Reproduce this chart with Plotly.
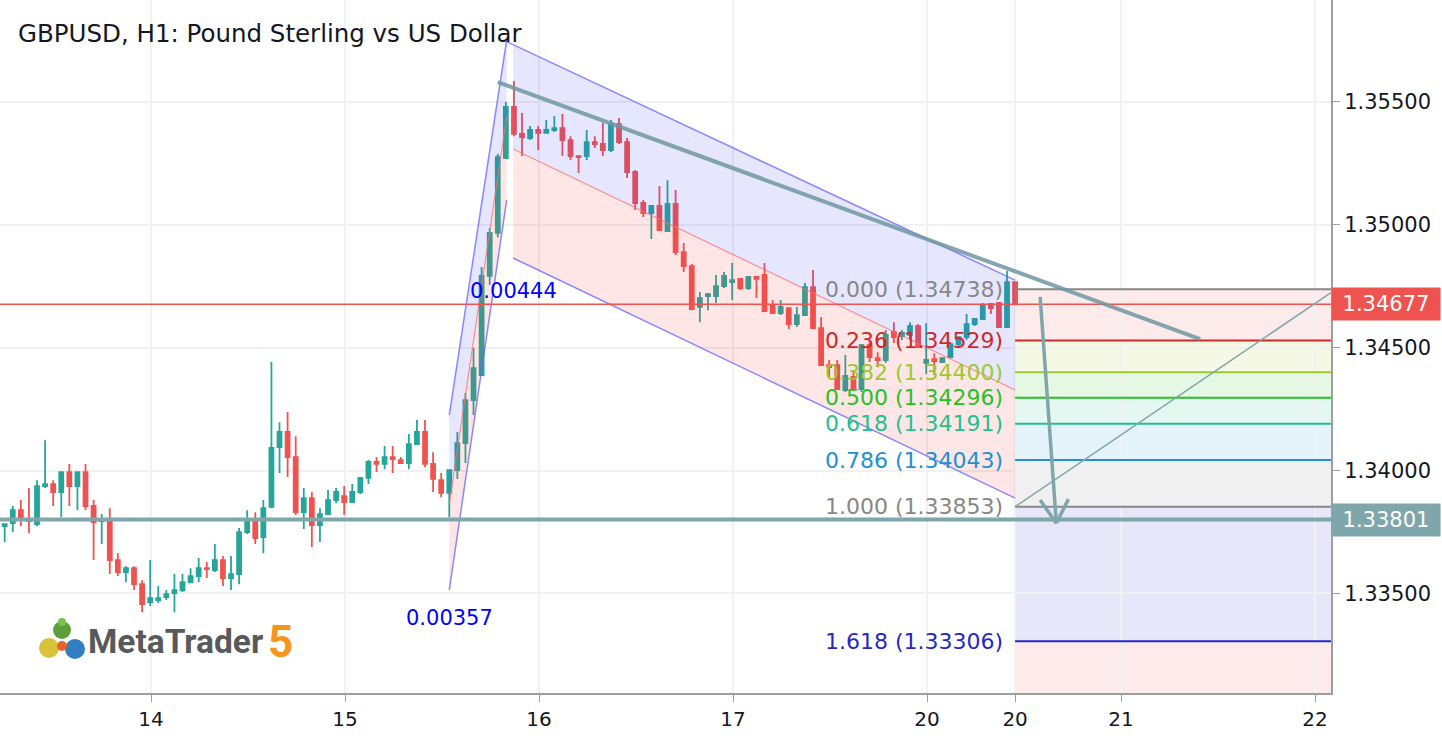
import plotly.graph_objects as go

# ---------------- data ----------------
title_text = "GBPUSD, H1: Pound Sterling vs US Dollar"

opens = [1.33774, 1.33786, 1.33839, 1.33803, 1.33782, 1.33937, 1.33945, 1.33913, 1.33994, 1.33937,
         1.33994, 1.33856, 1.33795, 1.33799, 1.33636, 1.33587, 1.33603, 1.33538, 1.33465, 1.33473,
         1.33485, 1.33502, 1.33514, 1.33546, 1.33571, 1.33603, 1.33595, 1.33636, 1.33563, 1.33579,
         1.33750, 1.33799, 1.33729, 1.33852, 1.34096, 1.34157, 1.34055, 1.33831, 1.33888, 1.33778,
         1.33823, 1.33880, 1.33896, 1.33872, 1.33913, 1.33970, 1.34035, 1.34027, 1.34055, 1.34043,
         1.34031, 1.34108, 1.34157, 1.34027, 1.33961, 1.33909, 1.34002, 1.34112, 1.34287, 1.34389,
         1.34792, 1.34967, 1.35272, 1.35480, 1.35370, 1.35353, 1.35386, 1.35374, 1.35386, 1.35394,
         1.35345, 1.35280, 1.35280, 1.35337, 1.35329, 1.35304, 1.35410, 1.35337, 1.35215, 1.35089,
         1.35048, 1.35077, 1.34975, 1.35085, 1.34889, 1.34832, 1.34666, 1.34710, 1.34710, 1.34751,
         1.34767, 1.34780, 1.34743, 1.34788, 1.34796, 1.34670, 1.34641, 1.34661, 1.34596, 1.34633,
         1.34747, 1.34580, 1.34429, 1.34429, 1.34328, 1.34381, 1.34332, 1.34511, 1.34458, 1.34450,
         1.34564, 1.34547, 1.34552, 1.34588, 1.34438, 1.34454, 1.34442, 1.34462, 1.34515, 1.34543,
         1.34596, 1.34617, 1.34678, 1.34682, 1.34584, 1.34767]
highs = [1.33786, 1.33856, 1.33880, 1.33929, 1.33961, 1.34124, 1.33961, 1.33994, 1.34027, 1.33994,
         1.34027, 1.33880, 1.33823, 1.33847, 1.33664, 1.33611, 1.33611, 1.33554, 1.33636, 1.33530,
         1.33514, 1.33579, 1.33579, 1.33603, 1.33644, 1.33628, 1.33701, 1.33652, 1.33652, 1.33766,
         1.33839, 1.33831, 1.33880, 1.34442, 1.34197, 1.34238, 1.34140, 1.33929, 1.33913, 1.33847,
         1.33921, 1.33929, 1.33937, 1.33945, 1.33970, 1.34043, 1.34055, 1.34100, 1.34100, 1.34055,
         1.34149, 1.34206, 1.34206, 1.34075, 1.33990, 1.34002, 1.34157, 1.34316, 1.34499, 1.34828,
         1.34987, 1.35288, 1.35500, 1.35585, 1.35455, 1.35402, 1.35402, 1.35427, 1.35443, 1.35451,
         1.35361, 1.35280, 1.35386, 1.35361, 1.35414, 1.35427, 1.35435, 1.35353, 1.35223, 1.35101,
         1.35077, 1.35158, 1.35182, 1.35142, 1.34926, 1.34841, 1.34727, 1.34723, 1.34796, 1.34808,
         1.34845, 1.34784, 1.34792, 1.34792, 1.34845, 1.34694, 1.34694, 1.34661, 1.34666, 1.34763,
         1.34816, 1.34625, 1.34450, 1.34450, 1.34470, 1.34401, 1.34515, 1.34531, 1.34482, 1.34572,
         1.34604, 1.34572, 1.34604, 1.34596, 1.34600, 1.34478, 1.34462, 1.34515, 1.34547, 1.34637,
         1.34621, 1.34682, 1.34682, 1.34686, 1.34812, 1.34771]
lows = [1.33709, 1.33750, 1.33774, 1.33746, 1.33774, 1.33929, 1.33856, 1.33811, 1.33856, 1.33839,
        1.33839, 1.33636, 1.33701, 1.33579, 1.33571, 1.33546, 1.33514, 1.33424, 1.33449, 1.33461,
        1.33473, 1.33424, 1.33506, 1.33546, 1.33546, 1.33563, 1.33587, 1.33530, 1.33514, 1.33538,
        1.33742, 1.33701, 1.33664, 1.33847, 1.33990, 1.33974, 1.33819, 1.33762, 1.33689, 1.33709,
        1.33819, 1.33868, 1.33819, 1.33868, 1.33904, 1.33945, 1.33994, 1.34006, 1.33990, 1.34031,
        1.34006, 1.34108, 1.34014, 1.33913, 1.33892, 1.33811, 1.33966, 1.34031, 1.34226, 1.34389,
        1.34755, 1.34950, 1.35268, 1.35361, 1.35280, 1.35345, 1.35304, 1.35374, 1.35378, 1.35280,
        1.35264, 1.35211, 1.35264, 1.35313, 1.35280, 1.35296, 1.35329, 1.35191, 1.35060, 1.35032,
        1.34942, 1.34979, 1.34971, 1.34877, 1.34808, 1.34653, 1.34604, 1.34653, 1.34682, 1.34743,
        1.34694, 1.34735, 1.34735, 1.34702, 1.34645, 1.34637, 1.34633, 1.34576, 1.34584, 1.34633,
        1.34576, 1.34429, 1.34381, 1.34328, 1.34320, 1.34328, 1.34320, 1.34442, 1.34421, 1.34438,
        1.34519, 1.34531, 1.34531, 1.34499, 1.34393, 1.34389, 1.34438, 1.34458, 1.34499, 1.34531,
        1.34588, 1.34613, 1.34637, 1.34584, 1.34584, 1.34674]
closes = [1.33782, 1.33839, 1.33799, 1.33795, 1.33937, 1.33945, 1.33913, 1.33994, 1.33937, 1.33994,
          1.33856, 1.33790, 1.33803, 1.33636, 1.33587, 1.33603, 1.33538, 1.33457, 1.33481, 1.33481,
          1.33497, 1.33514, 1.33546, 1.33571, 1.33603, 1.33599, 1.33636, 1.33563, 1.33579, 1.33750,
          1.33799, 1.33725, 1.33847, 1.34092, 1.34157, 1.34055, 1.33831, 1.33888, 1.33778, 1.33823,
          1.33880, 1.33913, 1.33872, 1.33913, 1.33970, 1.34035, 1.34027, 1.34055, 1.34047, 1.34031,
          1.34108, 1.34157, 1.34027, 1.33966, 1.33909, 1.34002, 1.34112, 1.34287, 1.34417, 1.34792,
          1.34967, 1.35276, 1.35480, 1.35370, 1.35357, 1.35386, 1.35374, 1.35386, 1.35394, 1.35345,
          1.35280, 1.35276, 1.35337, 1.35329, 1.35304, 1.35410, 1.35337, 1.35215, 1.35089, 1.35048,
          1.35077, 1.34979, 1.35085, 1.34889, 1.34832, 1.34657, 1.34702, 1.34718, 1.34751, 1.34792,
          1.34775, 1.34743, 1.34788, 1.34780, 1.34649, 1.34641, 1.34666, 1.34596, 1.34633, 1.34747,
          1.34580, 1.34429, 1.34421, 1.34332, 1.34385, 1.34332, 1.34511, 1.34462, 1.34450, 1.34552,
          1.34543, 1.34560, 1.34588, 1.34503, 1.34450, 1.34446, 1.34458, 1.34515, 1.34543, 1.34596,
          1.34617, 1.34670, 1.34661, 1.34584, 1.34767, 1.34677]
bar_index = list(range(len(opens)))

x_tick_vals = [18.1, 42.1, 66.1, 90.1, 114.1, 125.0, 138.1, 162.1]
x_tick_text = ["14", "15", "16", "17", "20", "20", "21", "22"]
y_tick_vals = [1.335, 1.340, 1.345, 1.350, 1.355]

last_price = 1.34677
support_price = 1.33801

fib_ratios = ["0.000", "0.236", "0.382", "0.500", "0.618", "0.786", "1.000", "1.618"]
fib_prices = [1.34738, 1.34529, 1.34400, 1.34296, 1.34191, 1.34043, 1.33853, 1.33306]
fib_colors = ["#878787", "#cc2a2a", "#9cc92e", "#25c225", "#22c08c", "#2391d0", "#878787", "#2727c6"]
fib_fills = ["rgba(239,83,80,0.12)", "rgba(170,200,42,0.12)", "rgba(37,194,37,0.12)",
             "rgba(34,192,140,0.12)", "rgba(35,145,208,0.12)", "rgba(135,135,135,0.12)",
             "rgba(39,39,198,0.11)", "rgba(239,83,80,0.12)"]
fib_x0 = 125.0

# channel drawings (x in bar index, y in price)
rally_x = [55.0, 62.1]
rally_upper = [1.34226, 1.35752]
rally_mid = [1.33864, 1.35439]
rally_lower = [1.33514, 1.35101]
desc_x = [62.9, 125.0]
desc_upper = [1.35733, 1.34775]
desc_mid = [1.35309, 1.34328]
desc_lower = [1.34865, 1.33888]
desc_upper_start = [61.7, 1.35752]
trend_x = [61.0, 147.9]
trend_y = [1.35581, 1.34535]
diag_x = [125.0, 164.08]
diag_y = [1.33853, 1.34724]
arrow_x = [128.1, 130.1]
arrow_y = [1.34707, 1.33786]
arrow_head_x = [128.1, 130.1, 131.6]
arrow_head_y = [1.33880, 1.33786, 1.33884]
chan_labels = ["0.00444", "0.00357"]
chan_label_x = [62.9, 55.0]
chan_label_y = [1.34731, 1.33400]

X_RANGE = [-0.58, 164.08]
Y_RANGE = [1.33095, 1.35915]

FONT = "DejaVu Sans"
TEAL = "rgb(127,166,170)"

fig = go.Figure()
fig.add_trace(go.Candlestick(
    x=bar_index, open=opens, high=highs, low=lows, close=closes,
    increasing=dict(line=dict(color="#26a69a", width=1.8), fillcolor="#26a69a"),
    decreasing=dict(line=dict(color="#ef5350", width=1.8), fillcolor="#ef5350"),
    hoverinfo="skip", showlegend=False))

shapes = []

def seg(x0, y0, x1, y1, color, width, xref="x"):
    shapes.append(dict(type="line", xref=xref, yref="y", x0=x0, y0=y0, x1=x1, y1=y1,
                       line=dict(color=color, width=width), layer="above"))

def poly(pts, fill):
    path = "M " + " L ".join(f"{a},{b}" for a, b in pts) + " Z"
    shapes.append(dict(type="path", xref="x", yref="y", path=path, fillcolor=fill,
                       line=dict(width=0), layer="above"))

BLUE_FILL = "rgba(60,60,255,0.13)"
RED_FILL = "rgba(255,60,60,0.13)"
BLUE_LINE = "rgba(100,100,255,0.75)"
RED_LINE = "rgba(255,110,110,0.75)"

# rally channel
poly([(rally_x[0], rally_upper[0]), (rally_x[1], rally_upper[1]),
      (rally_x[1], rally_mid[1]), (rally_x[0], rally_mid[0])], BLUE_FILL)
poly([(rally_x[0], rally_mid[0]), (rally_x[1], rally_mid[1]),
      (rally_x[1], rally_lower[1]), (rally_x[0], rally_lower[0])], RED_FILL)
seg(rally_x[0], rally_upper[0], rally_x[1], rally_upper[1], BLUE_LINE, 1.5)
seg(rally_x[0], rally_mid[0], rally_x[1], rally_mid[1], RED_LINE, 1.2)
seg(rally_x[0], rally_lower[0], rally_x[1], rally_lower[1], BLUE_LINE, 1.5)

# descending channel
poly([(desc_x[0], desc_upper[0]), (desc_x[1], desc_upper[1]),
      (desc_x[1], desc_mid[1]), (desc_x[0], desc_mid[0])], BLUE_FILL)
poly([(desc_x[0], desc_mid[0]), (desc_x[1], desc_mid[1]),
      (desc_x[1], desc_lower[1]), (desc_x[0], desc_lower[0])], RED_FILL)
seg(desc_upper_start[0], desc_upper_start[1], desc_x[1], desc_upper[1], BLUE_LINE, 1.5)
seg(desc_x[0], desc_mid[0], desc_x[1], desc_mid[1], RED_LINE, 1.2)
seg(desc_x[0], desc_lower[0], desc_x[1], desc_lower[1], BLUE_LINE, 1.5)

# fibonacci bands
band_edges = fib_prices + [Y_RANGE[0]]
for i in range(len(fib_prices)):
    shapes.append(dict(type="rect", xref="x", yref="y", x0=fib_x0, x1=X_RANGE[1],
                       y0=band_edges[i + 1], y1=band_edges[i], fillcolor=fib_fills[i],
                       line=dict(width=0), layer="below"))
for p, c in zip(fib_prices, fib_colors):
    seg(fib_x0, p, X_RANGE[1], p, c, 2)

# horizontal price lines
shapes.append(dict(type="line", xref="paper", yref="y", x0=0, x1=1, y0=last_price, y1=last_price,
                   line=dict(color="#ef5350", width=1.5), layer="above"))
shapes.append(dict(type="line", xref="paper", yref="y", x0=0, x1=1, y0=support_price, y1=support_price,
                   line=dict(color=TEAL, width=4), layer="above"))

# trend line, diagonal, arrow
seg(trend_x[0], trend_y[0], trend_x[1], trend_y[1], "rgba(110,150,160,0.85)", 4)
seg(diag_x[0], diag_y[0], diag_x[1], diag_y[1], TEAL, 1.5)
seg(arrow_x[0], arrow_y[0], arrow_x[1], arrow_y[1], TEAL, 3.5)
seg(arrow_head_x[0], arrow_head_y[0], arrow_head_x[1], arrow_head_y[1], TEAL, 3.5)
seg(arrow_head_x[2], arrow_head_y[2], arrow_head_x[1], arrow_head_y[1], TEAL, 3.5)

# MetaTrader logo (paper coords)
W, H = 1331.0, 693.0
def circ(cx, cy, r, color):
    shapes.append(dict(type="circle", xref="paper", yref="paper",
                       x0=(cx - r) / W, x1=(cx + r) / W, y0=1 - (cy + r) / H, y1=1 - (cy - r) / H,
                       fillcolor=color, line=dict(width=0), layer="above"))
circ(49, 648, 10, "#d9c23a")
circ(75, 649, 10, "#2f7fc1")
circ(62, 630, 9, "#5f9e3c")
circ(62, 646, 5, "#e8622c")
circ(62, 622, 4, "#7cbf4a")

annotations = []
annotations.append(dict(text=title_text, xref="paper", yref="paper", x=16 / W, y=1 - 33 / H,
                        xanchor="left", yanchor="middle", showarrow=False,
                        font=dict(family=FONT, size=24.5, color="#131722")))
for r, p, c in zip(fib_ratios, fib_prices, fib_colors):
    annotations.append(dict(text=f"{r} ({p:.5f})", x=123.7, y=p, xref="x", yref="y",
                            xanchor="right", yanchor="middle", showarrow=False,
                            font=dict(family=FONT, size=22, color=c)))
for t, lx, ly in zip(chan_labels, chan_label_x, chan_label_y):
    annotations.append(dict(text=t, x=lx, y=ly, xref="x", yref="y", xanchor="center",
                            yanchor="middle", showarrow=False,
                            font=dict(family=FONT, size=21, color="#0000ff")))
for val, bg in [(last_price, "#ef5350"), (support_price, TEAL)]:
    annotations.append(dict(text=f"{val:.5f}", x=1, y=val, xref="paper", yref="y",
                            xanchor="left", yanchor="middle", showarrow=False,
                            bgcolor=bg, width=104, height=28, borderpad=2, align="center",
                            font=dict(family=FONT, size=21, color="white")))
annotations.append(dict(text="<b>MetaTrader</b>", xref="paper", yref="paper", x=86 / W, y=1 - 641 / H,
                        xanchor="left", yanchor="middle", showarrow=False,
                        font=dict(family="Roboto", size=33.5, color="#58595b")))
annotations.append(dict(text="<b>5</b>", xref="paper", yref="paper", x=266 / W, y=1 - 642 / H,
                        xanchor="left", yanchor="middle", showarrow=False,
                        font=dict(family="Roboto", size=44, color="#f7941d")))

fig.update_layout(
    width=1442, height=740,
    margin=dict(l=0, r=111, t=0, b=47, pad=0),
    paper_bgcolor="white", plot_bgcolor="white",
    showlegend=False, hovermode=False,
    shapes=shapes, annotations=annotations,
    xaxis=dict(range=X_RANGE, tickvals=x_tick_vals, ticktext=x_tick_text,
               rangeslider=dict(visible=False), showgrid=True, gridcolor="#f1f1f1", gridwidth=2,
               zeroline=False, showline=True, linecolor="#9e9e9e", linewidth=2,
               ticks="outside", ticklen=7, tickcolor="#9e9e9e",
               tickfont=dict(family=FONT, size=20, color="#131722")),
    yaxis=dict(range=Y_RANGE, side="right", tickvals=y_tick_vals, tickformat=".5f",
               showgrid=True, gridcolor="#f1f1f1", gridwidth=2, zeroline=False,
               showline=True, linecolor="#9e9e9e", linewidth=2,
               ticks="outside", ticklen=7, tickcolor="#9e9e9e",
               tickfont=dict(family=FONT, size=21, color="#131722")),
)

fig.write_html("out.html", config={"displayModeBar": False},
               post_script="document.body.style.margin='0';")
